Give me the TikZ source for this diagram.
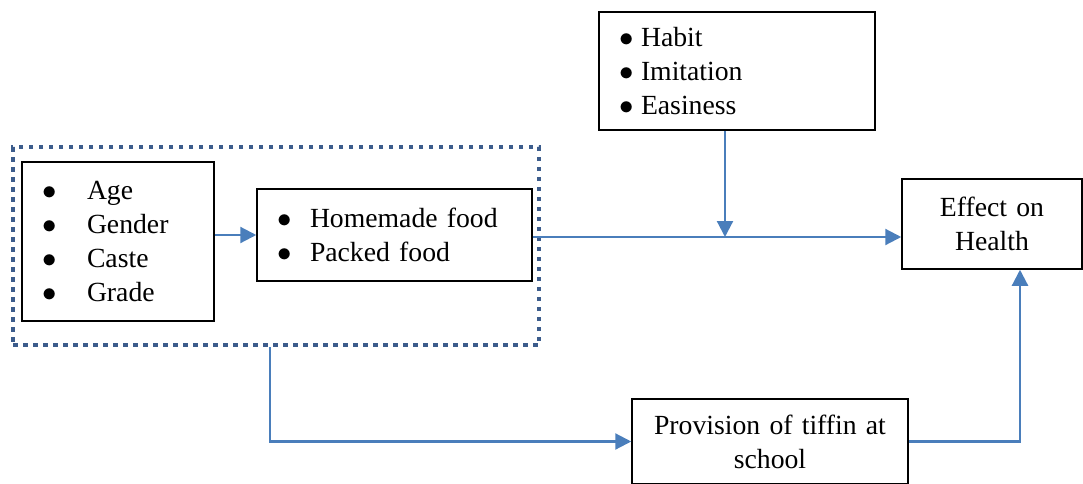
\documentclass[tikz,border=0pt]{standalone}
\usepackage{fontspec}
\setmainfont{Liberation Serif}
\usetikzlibrary{arrows.meta}
\definecolor{linkblue}{RGB}{74,126,187}
\definecolor{frameblue}{RGB}{60,92,140}
\newcommand{\bul}[2]{\makebox[#1][l]{$\bullet$}#2}

\begin{document}
\begin{tikzpicture}[x=0.5pt, y=-0.5pt,
  box/.style = {shape=rectangle, draw, line width=0.75pt, inner xsep=10pt,
    inner ysep=0pt, align=left, font=\fontsize{13.85}{17}\selectfont},
  conn/.style = {draw=linkblue, line width=1.1pt,
    -{Triangle[length=8pt, width=8pt]}},
  group/.style = {shape=rectangle, draw=frameblue, line width=2.25pt,
    dash pattern=on 2.25pt off 2.75pt, inner sep=0pt}
  ]
  \useasboundingbox (0,0) rectangle (1083,483);

  \node[group, minimum width=263pt, minimum height=99pt] (grp) at (276,246) {};
  \node[box, text width=76pt, minimum height=79.5pt] (demo) at (118,241.5)
    {\bul{22.5pt}{Age}\\ \bul{22.5pt}{Gender}\\ \bul{22.5pt}{Caste}\\ \bul{22.5pt}{Grade}};
  \node[box, text width=117.5pt, minimum height=46pt] (food) at (394.5,235)
    {\bul{16.5pt}{Homemade food}\\ \bul{16.5pt}{Packed food}};
  \node[box, text width=118pt, minimum height=59pt, yshift=-1.5pt] (habit) at (737,68)
    {\bul{11pt}{Habit}\\ \bul{11pt}{Imitation}\\ \bul{11pt}{Easiness}};
  \node[box, align=center, text width=70pt, minimum height=45pt] (health) at (992,224)
    {Effect on\\ Health};
  \node[box, align=center, text width=118pt, minimum height=42.5pt] (tiffin) at (770,441.5)
    {Provision of tiffin at\\ school};

  \coordinate (junc) at (725,237);
  \draw[conn] (demo.east |- food.west) -- (food.west);
  \draw[conn] (food.east |- junc) -- (health.west |- junc);
  \draw[conn] (habit.south -| junc) -- (junc);
  \draw[conn] ([xshift=-3pt]grp.south) |- (tiffin.west);
  \draw[conn] (tiffin.east) -| ([xshift=14pt]health.south);
\end{tikzpicture}
\end{document}
